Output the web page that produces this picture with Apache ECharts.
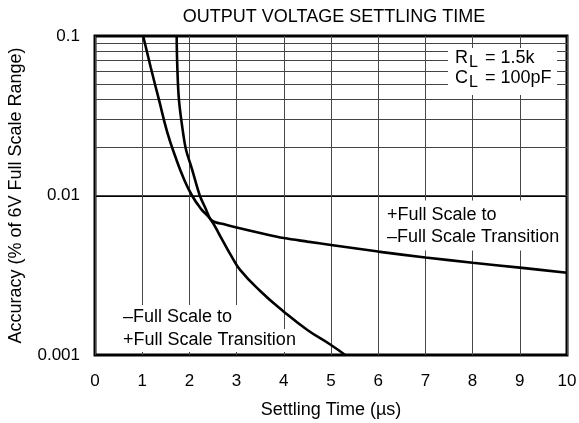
<!DOCTYPE html>
<html>
<head>
<meta charset="utf-8">
<script src="https://cdn.jsdelivr.net/npm/echarts@6/dist/echarts.min.js"></script>
<style>
html,body{margin:0;padding:0;background:#fff;}
#c{width:579px;height:423px;}
</style>
</head>
<body>
<div id="c"></div>
<script>
// ---- data ----
const titleText = 'OUTPUT VOLTAGE SETTLING TIME';
const xName = 'Settling Time (µs)';
const yName = 'Accuracy (% of 6V Full Scale Range)';
const xTicks = [0,1,2,3,4,5,6,7,8,9,10];
const yTickLabels = {0.1:'0.1', 0.01:'0.01', 0.001:'0.001'};
const minorGridValues = [0.002,0.003,0.004,0.005,0.006,0.007,0.008,0.009,
                         0.02,0.03,0.04,0.05,0.06,0.07,0.08,0.09];

// –Full Scale to +Full Scale transition
const negToPosX = [1.02, 1.18, 1.36, 1.53, 1.705, 1.875, 2.055, 2.245, 2.447, 2.67, 2.896, 3.07, 3.5, 4.0, 4.5, 5.0, 5.30];
const negToPosY = [0.1, 0.0637, 0.0393, 0.025, 0.01743, 0.01288, 0.01, 0.00825, 0.0071, 0.00545, 0.00414, 0.00343, 0.00252, 0.00187, 0.001435, 0.001155, 0.001];

// +Full Scale to –Full Scale transition
const posToNegX = [1.73, 1.744, 1.78, 1.87, 1.93, 2.05, 2.22, 2.35, 2.447, 2.55, 2.72, 3.0, 3.5, 4.0, 4.5, 5.0, 6.0, 7.0, 8.0, 9.0, 10.0];
const posToNegY = [0.1, 0.0637, 0.0393, 0.0243, 0.0193, 0.0148, 0.01, 0.0082, 0.0071, 0.0068, 0.00662, 0.0063, 0.00582, 0.00541, 0.00514, 0.0049, 0.00445, 0.00409, 0.00379, 0.00353, 0.00328];

const FONT = "'Liberation Sans', Arial, Helvetica, sans-serif";
const FS = 18;
const FT = 17;

function pairs(xs, ys){ return xs.map((x,i)=>[x, ys[i]]); }

function boxLabel(formatter, opts){
  return Object.assign({
    show: true,
    position: 'right',
    distance: 0,
    formatter: formatter,
    backgroundColor: '#fff',
    color: '#000',
    fontFamily: FONT,
    fontSize: FS,
    align: 'left'
  }, opts);
}

const richStyles = {
  m: {fontFamily: FONT, fontSize: FS, color:'#000', lineHeight: 20},
  s: {fontFamily: FONT, fontSize: FS-2, color:'#000', lineHeight: 20, padding:[10,2,0,1]}
};

const annotations = [
  {coord:[7.48, 0.0599], label: boxLabel('{m|R}{s|L}{m| = 1.5k}\n{m|C}{s|L}{m| = 100pF}', {
      rich: richStyles, width: 102, height: 40, padding:[0,0,7,7]})},
  {coord:[6.10, 0.00648], label: boxLabel('+Full Scale to\n–Full Scale Transition', {
      lineHeight: 22, width: 178, height: 44, padding:[3,0,3,4]})},
  {coord:[0.487, 0.00173], label: boxLabel('–Full Scale to', {
      lineHeight: 22, width: 120, height: 24, padding:[0,0,0,5]})},
  {coord:[0.487, 0.001233], label: boxLabel('+Full Scale Transition', {
      lineHeight: 22, width: 174, height: 23, padding:[0,0,0,5]})}
];

const chart = echarts.init(document.getElementById('c'), null, {renderer:'canvas'});
chart.setOption({
  animation: false,
  backgroundColor: '#fff',
  textStyle: {fontFamily: FONT},
  title: {
    text: titleText,
    left: 329, top: 3, textAlign: 'center',
    textStyle: {fontFamily: FONT, fontSize: FS, fontWeight: 'normal', color: '#000'}
  },
  grid: {left: 95, right: 12, top: 36, bottom: 68, show: true, borderColor: '#000', borderWidth: 3,
         backgroundColor: 'transparent', containLabel: false, outerBoundsMode: 'none'},
  xAxis: {
    type: 'value', min: 0, max: 10, interval: 1,
    name: xName, nameLocation: 'middle', nameGap: 46,
    nameTextStyle: {fontFamily: FONT, fontSize: FS, color: '#000'},
    axisLine: {show: false},
    axisTick: {show: false},
    axisLabel: {fontFamily: FONT, fontSize: FT, color: '#000', margin: 18,
      formatter: v => xTicks.includes(v) ? String(v) : ''},
    splitLine: {show: true, lineStyle: {color: '#484848', width: 1}}
  },
  yAxis: {
    type: 'log', logBase: 10, min: 0.001, max: 0.1,
    name: yName, nameLocation: 'middle', nameGap: 70,
    nameTextStyle: {fontFamily: FONT, fontSize: FS, color: '#000'},
    axisLine: {show: false},
    axisTick: {show: false},
    axisLabel: {fontFamily: FONT, fontSize: FT, color: '#000', margin: 15,
      formatter: v => yTickLabels[v] || yTickLabels[Number(v.toPrecision(3))] || ''},
    splitLine: {show: true, lineStyle: {color: '#000', width: 2}}
  },
  series: [
    {
      name: '–Full Scale to +Full Scale Transition',
      type: 'line', data: pairs(negToPosX, negToPosY),
      showSymbol: false, smooth: 0.5,
      lineStyle: {color: '#000', width: 2.6},
      z: 3,
      markLine: {
        silent: true, symbol: ['none','none'], animation: false,
        label: {show: false},
        lineStyle: {color: '#444', width: 1, type: 'solid'},
        data: minorGridValues.map(v => ({yAxis: v})),
        z: 1
      }
    },
    {
      name: '+Full Scale to –Full Scale Transition',
      type: 'line', data: pairs(posToNegX, posToNegY),
      showSymbol: false, smooth: 0.35,
      lineStyle: {color: '#000', width: 2.6},
      z: 3,
      markPoint: {
        silent: true, animation: false,
        symbol: 'rect', symbolSize: 0,
        itemStyle: {color: 'transparent'},
        data: annotations
      }
    }
  ]
});
</script>
</body>
</html>
